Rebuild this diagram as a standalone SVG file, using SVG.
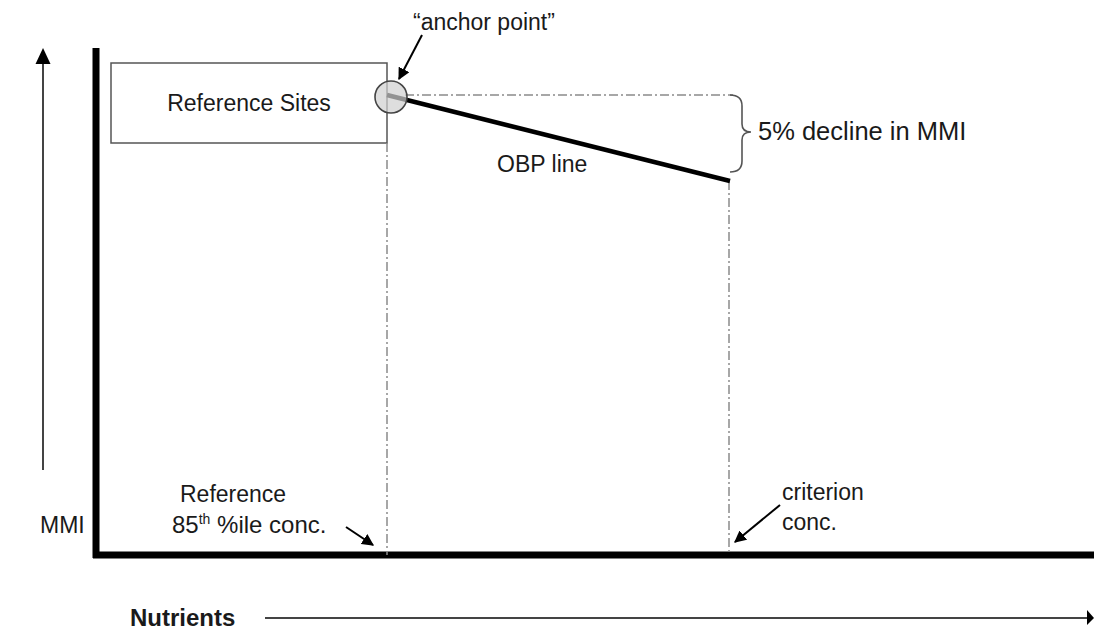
<svg xmlns="http://www.w3.org/2000/svg" width="1094" height="630" viewBox="0 0 1094 630">
<style>
.t{font-family:"Liberation Sans",Arial,sans-serif;font-size:23px;fill:#1a1a1a}
.b{font-weight:bold}
.dd{stroke:#8a8a8a;stroke-width:1.5;fill:none;stroke-dasharray:9 3 2 3}
.ax{stroke:#000;stroke-width:7;fill:none}
.thin{stroke:#444;stroke-width:2;fill:none}
</style>
<defs>
<marker id="ah" viewBox="0 0 10 10" refX="9" refY="5" markerWidth="6" markerHeight="6" markerUnits="strokeWidth" orient="auto">
<path d="M0,0 L10,5 L0,10 z" fill="#000"/>
</marker>
</defs>
<rect width="1094" height="630" fill="#fff"/>
<g id="axes">
<line class="ax" x1="96" y1="48" x2="96" y2="558"/>
<line class="ax" x1="93" y1="555" x2="1094" y2="555"/>
<line class="thin" x1="43" y1="470" x2="43" y2="62"/>
<path d="M35.5,64 L43,48 L50.5,64 z" fill="#000"/>
<line class="thin" x1="265" y1="618" x2="1088" y2="618"/>
<path d="M1087,610 L1094,618 L1087,625 z" fill="#000"/>
<text class="t" x="40" y="533">MMI</text>
<text class="t b" x="130" y="626" style="font-size:24px">Nutrients</text>
</g>
<g id="reference-sites">
<rect x="111" y="63" width="276" height="80" fill="#fff" stroke="#555" stroke-width="1.5"/>
<text class="t" x="249" y="111" text-anchor="middle">Reference Sites</text>
</g>
<g id="connectors">
<line class="dd" x1="387" y1="143" x2="387" y2="555"/>
<line class="dd" x1="729" y1="181" x2="729" y2="555"/>
<line class="dd" x1="405" y1="95" x2="733" y2="95"/>
<line x1="387" y1="95" x2="730" y2="181" stroke="#000" stroke-width="4.5"/>
<path d="M730,95 Q742,95 742,106 L742,124 Q742,132 751,132 Q742,132 742,140 L742,161 Q742,172 730,172" fill="none" stroke="#555" stroke-width="1.6"/>
<line x1="422" y1="35" x2="399" y2="79" stroke="#000" stroke-width="2" marker-end="url(#ah)"/>
<line x1="346" y1="527" x2="373" y2="545" stroke="#000" stroke-width="2" marker-end="url(#ah)"/>
<line x1="780" y1="505" x2="735" y2="542" stroke="#000" stroke-width="2" marker-end="url(#ah)"/>
</g>
<g id="anchor-point">
<circle cx="391" cy="97" r="16" fill="#d0d0d0" fill-opacity="0.7" stroke="#444" stroke-width="1.6"/>
<text class="t" x="413" y="30">“anchor point”</text>
</g>
<g id="labels">
<text class="t" x="497" y="172">OBP line</text>
<text class="t" x="758" y="140" style="font-size:25.5px">5% decline in MMI</text>
<text class="t" x="180" y="502">Reference</text>
<text class="t" x="172" y="533" style="font-size:24px">85<tspan style="font-size:14px" dy="-9">th</tspan><tspan dy="9"> %ile conc.</tspan></text>
<text class="t" x="782" y="500">criterion</text>
<text class="t" x="782" y="530">conc.</text>
</g>
</svg>
